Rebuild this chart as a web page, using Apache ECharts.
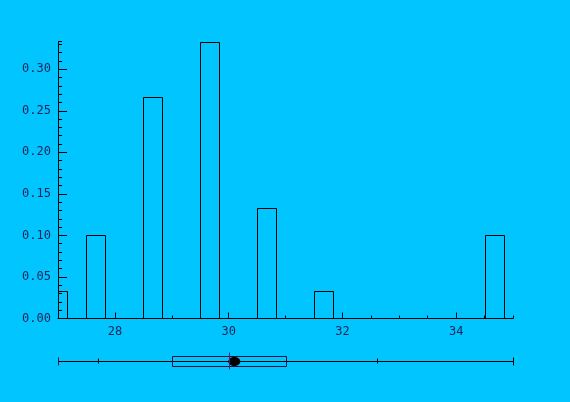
<!DOCTYPE html>
<html>
<head>
<meta charset="utf-8">
<script src="https://cdn.jsdelivr.net/npm/echarts@6/dist/echarts.min.js"></script>
<style>
  html, body { margin: 0; padding: 0; background: #00C5FF; }
  #chart { width: 570px; height: 402px; }
</style>
</head>
<body>
<div id="chart"></div>
<script>
// Histogram bins (left edge, right edge) and relative frequencies (n = 30)
const binStarts = [26.8333, 27.5, 28.5, 29.5, 30.5, 31.5, 34.5];
const binEnds   = [27.1667, 27.8333, 28.8333, 29.8333, 30.8333, 31.8333, 34.8333];
const relFreq   = [1/30, 3/30, 8/30, 10/30, 4/30, 1/30, 3/30];

// Axis ticks and labels
const xMajorTicks = [28, 30, 32, 34];
const yMajorTicks = [0, 0.05, 0.10, 0.15, 0.20, 0.25, 0.30];

// Box plot summary: min, Q1, median, Q3, max; extra whisker marks; mean
const boxStats = [27.0, 29.0, 30.0, 31.0, 35.0];
const whiskerMarks = [27.7, 32.6];
const meanValue = 30.1;

const ink = '#000000';
const textColor = '#1a2458';
const labelFont = { fontFamily: 'DejaVu Sans Mono', fontSize: 12, color: textColor };

function crisp(v) { return Math.round(v) + 0.5; }

const chart = echarts.init(document.getElementById('chart'), null, { renderer: 'canvas' });

const histItems = binStarts.map((s, i) => [s, binEnds[i], relFreq[i]]);

const option = {
  backgroundColor: '#00C5FF',
  animation: false,
  grid: [
    { left: 58, right: 57, top: 41.5, height: 277, containLabel: false, outerBoundsMode: 'none' },
    { left: 58, right: 57, top: 341, height: 40, containLabel: false, outerBoundsMode: 'none' }
  ],
  xAxis: [
    {
      type: 'value', gridIndex: 0, min: 27, max: 35, position: 'bottom',
      axisLine: { show: true, onZero: false, lineStyle: { color: ink, width: 1 } },
      axisTick: { show: true, inside: true, length: 6, customValues: xMajorTicks, lineStyle: { color: ink } },
      axisLabel: Object.assign({ customValues: xMajorTicks, margin: 7 }, labelFont),
      splitLine: { show: false }
    },
    {
      type: 'value', gridIndex: 0, min: 27, max: 35, interval: 0.5, position: 'bottom', offset: 0,
      axisLine: { show: false },
      axisTick: { show: true, inside: true, length: 3, lineStyle: { color: ink } },
      axisLabel: { show: false },
      splitLine: { show: false }
    },
    {
      type: 'value', gridIndex: 1, min: 27, max: 35, show: false
    }
  ],
  yAxis: [
    {
      type: 'value', gridIndex: 0, min: 0, max: 1/3, position: 'left',
      axisLine: { show: true, onZero: false, lineStyle: { color: ink, width: 1 } },
      axisTick: { show: true, inside: true, length: 9, customValues: yMajorTicks, lineStyle: { color: ink } },
      axisLabel: Object.assign({
        customValues: yMajorTicks, margin: 7,
        formatter: v => v.toFixed(2)
      }, labelFont),
      splitLine: { show: false }
    },
    {
      type: 'value', gridIndex: 0, min: 0, max: 1/3, interval: 0.01, position: 'left', offset: 0,
      axisLine: { show: false },
      axisTick: { show: true, inside: true, length: 4, lineStyle: { color: ink } },
      axisLabel: { show: false },
      splitLine: { show: false }
    },
    {
      type: 'value', gridIndex: 1, min: 0, max: 1, show: false
    }
  ],
  series: [
    {
      // open histogram bars
      type: 'custom',
      xAxisIndex: 0, yAxisIndex: 0,
      clip: true,
      data: histItems,
      renderItem: function (params, api) {
        const x0 = crisp(api.coord([api.value(0), 0])[0]);
        const x1 = crisp(api.coord([api.value(1), 0])[0]);
        const yb = crisp(api.coord([api.value(0), 0])[1]);
        const yt = crisp(api.coord([api.value(0), api.value(2)])[1]);
        return {
          type: 'polyline',
          shape: { points: [[x0, yb], [x0, yt], [x1, yt], [x1, yb]] },
          style: { stroke: ink, lineWidth: 1, fill: null }
        };
      },
      z: 3
    },
    {
      // horizontal box plot below the histogram
      type: 'custom',
      xAxisIndex: 2, yAxisIndex: 2,
      data: [[boxStats[0], boxStats[1], boxStats[2], boxStats[3], boxStats[4]]],
      renderItem: function (params, api) {
        const yc = crisp(api.coord([0, 0.5])[1]);
        const px = v => crisp(api.coord([v, 0.5])[0]);
        const xmin = px(api.value(0)), xq1 = px(api.value(1)), xmed = px(api.value(2));
        const xq3 = px(api.value(3)), xmax = px(api.value(4));
        const children = [];
        children.push({ type: 'line', shape: { x1: xmin, y1: yc, x2: xmax, y2: yc }, style: { stroke: ink, lineWidth: 1 } });
        children.push({ type: 'line', shape: { x1: xmin, y1: yc - 4, x2: xmin, y2: yc + 4 }, style: { stroke: '#4a1040', lineWidth: 1 } });
        children.push({ type: 'line', shape: { x1: xmax, y1: yc - 4, x2: xmax, y2: yc + 4 }, style: { stroke: ink, lineWidth: 1 } });
        whiskerMarks.forEach(m => {
          const xm = px(m);
          children.push({ type: 'line', shape: { x1: xm, y1: yc - 3, x2: xm, y2: yc + 2 }, style: { stroke: ink, lineWidth: 1 } });
        });
        children.push({ type: 'rect', shape: { x: xq1, y: yc - 5, width: xq3 - xq1, height: 10 }, style: { stroke: '#2a0c3a', fill: null, lineWidth: 1 } });
        const xmean = api.coord([meanValue, 0.5])[0];
        children.push({ type: 'ellipse', shape: { cx: xmean, cy: yc, rx: 6, ry: 4.5 }, style: { fill: ink, stroke: null } });
        children.push({ type: 'line', shape: { x1: xmed, y1: yc - 9, x2: xmed, y2: yc + 8 }, style: { stroke: '#5a1a78', lineWidth: 1 } });
        return { type: 'group', children: children };
      },
      z: 3
    }
  ]
};

chart.setOption(option);
</script>
</body>
</html>
